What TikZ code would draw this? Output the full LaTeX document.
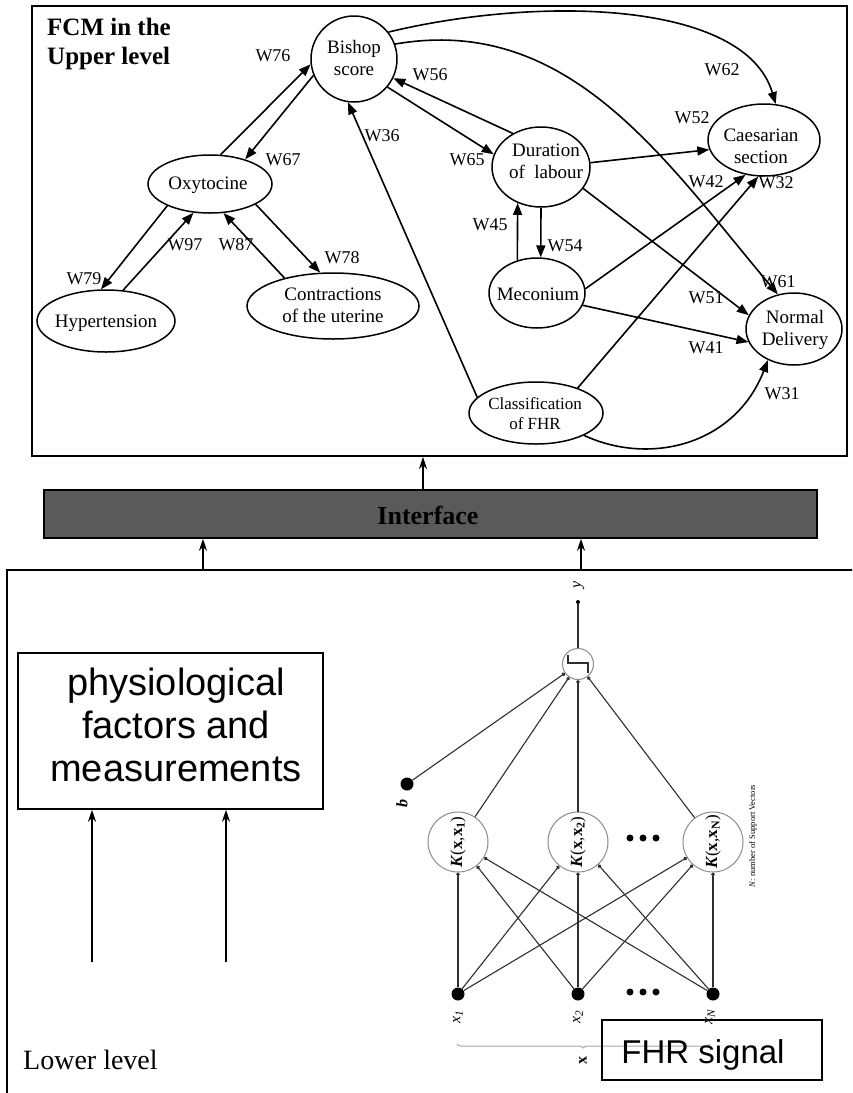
\documentclass[tikz,border=0pt]{standalone}
\usepackage{fontspec}
\setmainfont{Liberation Serif}
\newfontfamily\arialf{Liberation Sans}
\usetikzlibrary{arrows.meta,shapes.geometric,decorations.pathreplacing}
\definecolor{ifacegray}{HTML}{5A5A5A}
\definecolor{svmline}{HTML}{2E2E2E}
\definecolor{svmcirc}{HTML}{8C8C8C}
\begin{document}
\begin{tikzpicture}[x=1pt,y=-1pt,
  frame/.style={draw,line width=1.8pt,inner sep=0pt},
  concept/.style={draw,ellipse,line width=1.5pt,inner sep=0pt},
  ctext/.style={font=\fontsize{19}{22}\selectfont,align=center,inner sep=0pt},
  wlab/.style={font=\fontsize{18}{20}\selectfont,inner sep=0pt},
  fcm/.style={line width=1.6pt,-{Triangle[length=12pt,width=9pt]}},
  bigarrow/.style={line width=2.2pt,-{Stealth[length=12pt,width=8pt]}},
  svm/.style={line width=1.1pt,draw=svmline},
  svmtip/.style={svm,-{Circle[length=3.6pt]}},
  kcirc/.style={circle,draw=svmcirc,line width=1pt,minimum size=60pt,inner sep=0pt},
  bigdot/.style={circle,fill=black,minimum size=13pt,inner sep=0pt},
  smalldot/.style={circle,fill=black,minimum size=4pt,inner sep=0pt},
  rlab/.style={rotate=90,inner sep=0pt,font=\fontsize{16}{18}\selectfont},
]
\useasboundingbox (0,0) rectangle (852,1093);
\clip (0,0) rectangle (852,1093);

% ---------------- upper level: fuzzy cognitive map ----------------
\node[frame,minimum width=815pt,minimum height=450pt] (upper) at (439.5,231) {};
\node[anchor=base west,inner sep=0pt,font=\bfseries\fontsize{25}{30}\selectfont] (title1) at (47,35) {FCM in the};
\node[anchor=base west,inner sep=0pt,font=\bfseries\fontsize{25}{30}\selectfont] (title2) at (47,64) {Upper level};

\node[draw,circle,line width=1.5pt,inner sep=0pt,minimum size=86pt] (bishop) at (354,59) {};
\node[concept,minimum width=124pt,minimum height=58pt] (oxy)   at (210,184) {};
\node[concept,minimum width=138pt,minimum height=62pt] (hyper) at (106,321) {};
\node[concept,minimum width=172pt,minimum height=66pt] (contr) at (333,306) {};
\node[concept,minimum width=98pt,minimum height=80pt]  (dur)   at (541,167) {};
\node[concept,minimum width=112pt,minimum height=72pt] (caes)  at (764,140) {};
\node[concept,minimum width=96pt,minimum height=70pt]  (mec)   at (537,293) {};
\node[concept,minimum width=96pt,minimum height=72pt]  (norm)  at (794,329) {};
\node[concept,minimum width=134pt,minimum height=62pt] (cls)   at (536,413) {};

\node[ctext] (bishop-t) at (354,58)  {Bishop\\score};
\node[ctext] (oxy-t)    at (208,185) {Oxytocine};
\node[ctext] (hyper-t)  at (106,323) {Hypertension};
\node[ctext] (contr-t)  at (333,305) {Contractions\\of the uterine};
\node[ctext] (dur-t)    at (546,161) {Duration\\of\ \ labour};
\node[ctext] (caes-t)   at (761,146) {Caesarian\\section};
\node[ctext] (mec-t)    at (538,294) {Meconium};
\node[ctext] (norm-t)   at (795,330) {Normal\\Delivery};
\node[ctext,font=\fontsize{17}{20}\selectfont] (cls-t) at (535,414) {Classification\\of FHR};

\draw[fcm] (oxy.70) -- (bishop.187);
\draw[fcm] (bishop.202) -- (oxy.35);
\draw[fcm] (oxy.207) -- (hyper.99);
\draw[fcm] (hyper.61) -- (oxy.240);
\draw[fcm] (contr.150) -- (oxy.295);
\draw[fcm] (oxy.-24) -- (contr.111);
\draw[fcm] (cls.165) -- (bishop.262);
\draw[fcm] (dur.130) -- (bishop.-26);
\draw[fcm] (bishop.-40) -- (dur.165);
\draw[fcm] (dur.5) -- (caes.190);
\draw[fcm] (dur.-27) -- (norm.163);
\draw[fcm] (mec.121) -- (dur.237);
\draw[fcm] (dur.270) -- (mec.84);
\draw[fcm] (mec.5) -- (caes.242);
\draw[fcm] (cls.31) -- (caes.261);
\draw[fcm] (mec.-15) -- (norm.196);
\draw[fcm] (cls.-25) .. controls (650,466) and (735,445) .. (norm.230);
\draw[fcm] (bishop.38) .. controls (538,-4) and (745,0) .. (caes.72);
\draw[fcm] (bishop.20) .. controls (569,14) and (664,159) .. (norm.115);

\node[wlab] (w76) at (273,56)  {W76};
\node[wlab] (w67) at (283,160) {W67};
\node[wlab] (w79) at (84,279)  {W79};
\node[wlab] (w97) at (185,245) {W97};
\node[wlab] (w87) at (236,245) {W87};
\node[wlab] (w78) at (342,258) {W78};
\node[wlab] (w36) at (382,136) {W36};
\node[wlab] (w56) at (430,75)  {W56};
\node[wlab] (w65) at (467,160) {W65};
\node[wlab] (w62) at (722,70)  {W62};
\node[wlab] (w52) at (692,118) {W52};
\node[wlab] (w42) at (706,182) {W42};
\node[wlab] (w32) at (776,183) {W32};
\node[wlab] (w45) at (490,225) {W45};
\node[wlab] (w54) at (565,246) {W54};
\node[wlab] (w61) at (778,282) {W61};
\node[wlab] (w51) at (706,298) {W51};
\node[wlab] (w41) at (706,348) {W41};
\node[wlab] (w31) at (782,394) {W31};

% ---------------- interface ----------------
\node[draw,fill=ifacegray,line width=1.5pt,minimum width=773pt,minimum height=48pt,inner sep=0pt] (iface) at (430.5,514) {};
\node[inner sep=0pt,font=\bfseries\fontsize{26}{30}\selectfont] (iface-t) at (428,515) {Interface};

\coordinate (u1) at (423,490);
\draw[bigarrow] (u1) -- (u1 |- upper.south);

% ---------------- lower level ----------------
\node[anchor=base west,inner sep=0pt,font=\fontsize{28}{32}\selectfont] (lowlab) at (23,1069) {Lower level};

\node[frame,minimum width=870pt,minimum height=540pt] (lower) at (442,840) {};
\coordinate (l1) at (203,570);
\coordinate (l2) at (581,570);
\draw[bigarrow] (l1) -- (l1 |- iface.south);
\draw[bigarrow] (l2) -- (l2 |- iface.south);

\node[draw,line width=1.5pt,minimum width=305pt,minimum height=156pt,inner sep=0pt] (phys) at (170.5,731) {};
\node[inner sep=0pt,align=center,font=\arialf\fontsize{38}{43}\selectfont] (phys-t) at (176,725) {physiological\\factors and\\measurements};
\coordinate (s1) at (92,962);
\draw[bigarrow] (s1) -- (s1 |- phys.south);
\coordinate (s2) at (226,962);
\draw[bigarrow] (s2) -- (s2 |- phys.south);

% support vector machine
\begin{scope}[yshift=10pt]
\node[smalldot] (yout) at (578,612) {};
\node[rlab,font=\itshape\fontsize{16}{18}\selectfont] (ylab) at (579,595) {y};
\node[circle,draw=svmcirc,line width=1pt,minimum size=31pt,inner sep=0pt] (sgn) at (578,674) {};
\draw[svm] ([shift={(-10,-9)}]sgn.center) -- ++(0,8) -- ++(20,0) -- ++(0,10);
\draw[svm] (sgn) -- (yout);

\node[bigdot] (b) at (407,794) {};
\node[rlab,font=\bfseries\itshape\fontsize{16}{18}\selectfont] (blab) at (402,813) {b};

\node[kcirc] (k1) at (458,852) {};
\node[kcirc] (k2) at (578,852) {};
\node[kcirc] (kN) at (713,852) {};
\node[rlab,font=\fontsize{17}{19}\selectfont] (k1t) at (k1) {\textbf{\textit{K}}(\textbf{x},\textbf{x}\textsubscript{\textbf{1}})};
\node[rlab,font=\fontsize{17}{19}\selectfont] (k2t) at (k2) {\textbf{\textit{K}}(\textbf{x},\textbf{x}\textsubscript{\textbf{2}})};
\node[rlab,font=\fontsize{17}{19}\selectfont] (kNt) at (kN) {\textbf{\textit{K}}(\textbf{x},\textbf{x}\textsubscript{\textbf{N}})};

\draw[svmtip] (b) -- (sgn);
\draw[svmtip] (k1) -- (sgn);
\draw[svmtip] (k2) -- (sgn);
\draw[svmtip] (kN) -- (sgn);

\node[bigdot] (x1) at (458,1004) {};
\node[bigdot] (x2) at (578,1004) {};
\node[bigdot] (xN) at (713,1004) {};
\foreach \i in {x1,x2,xN}
  \foreach \k in {k1,k2,kN}
    \draw[svmtip] (\i) -- (\k);

\foreach \xx in {630,643,656} {
  \fill (\xx,848) circle (3.5);
  \fill (\xx,1002) circle (3.5);
}

\node[rlab] (x1lab) at (458,1027) {\textit{x}\textsubscript{\textit{1}}};
\node[rlab] (x2lab) at (578,1027) {\textit{x}\textsubscript{\textit{2}}};
\node[rlab] (xNlab) at (710,1027) {\textit{x}\textsubscript{\textit{N}}};

\node[rotate=90,inner sep=0pt,font=\fontsize{8.5}{9}\selectfont] (nsv) at (753,846) {\textit{N}: number of Support Vectors};

\coordinate (brL) at (457,1054);
\coordinate (brR) at (710,1054);
\draw[draw=gray!70,line width=1pt,decorate,decoration={brace,amplitude=4pt,mirror}] (brL) -- (brR);
\node[rlab,font=\bfseries\fontsize{16}{18}\selectfont] (xlab) at (583,1070) {x};
\end{scope}

\node[draw,line width=1.5pt,minimum width=220pt,minimum height=60pt,inner sep=0pt] (fhr) at (712,1050) {};
\node[anchor=base,inner sep=0pt,font=\arialf\fontsize{33}{36}\selectfont] (fhr-t) at (703,1063) {FHR signal};
\end{tikzpicture}
\end{document}
